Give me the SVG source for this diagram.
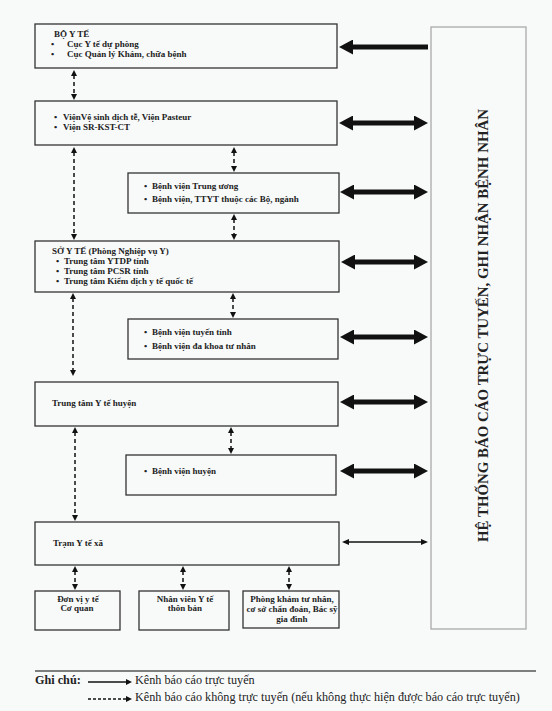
<svg xmlns="http://www.w3.org/2000/svg" width="552" height="711" viewBox="0 0 552 711">
<style>
.box{fill:none;stroke:#333;stroke-width:1.3}
.side{fill:none;stroke:#aaa;stroke-width:1.3}
.t{font-family:"Liberation Serif","Times New Roman",serif;font-size:9px;font-weight:bold;fill:#222}
.c{text-anchor:middle}
.big{font-family:"Liberation Serif","Times New Roman",serif;font-size:15px;font-weight:bold;fill:#222}
.lg{font-family:"Liberation Serif","Times New Roman",serif;font-size:12.2px;fill:#222}
.thick{stroke:#111;stroke-width:5;fill:none}
.dash{stroke:#111;stroke-width:1.5;stroke-dasharray:4 3;fill:none}
.thin{stroke:#111;stroke-width:1.4;fill:none}
</style>
<defs>
<marker id="hb" markerUnits="userSpaceOnUse" markerWidth="14" markerHeight="15" viewBox="0 0 14 15" refX="3" refY="7.5" orient="auto-start-reverse"><path d="M0,0 L14,7.5 L0,15 z" fill="#111"/></marker>
<marker id="hs" markerUnits="userSpaceOnUse" markerWidth="6" markerHeight="6" viewBox="0 0 6 6" refX="1" refY="3" orient="auto-start-reverse"><path d="M0,0 L6,3 L0,6 z" fill="#111"/></marker>
<marker id="ht" markerUnits="userSpaceOnUse" markerWidth="7" markerHeight="6" viewBox="0 0 7 6" refX="1" refY="3" orient="auto-start-reverse"><path d="M0,0 L7,3 L0,6 z" fill="#111"/></marker>
</defs>
<rect width="552" height="711" fill="#f8fafa"/>

<g id="he-thong">
<rect class="side" x="431" y="27" width="95" height="602"/>
<text class="big c" transform="translate(488,325.5) rotate(-90)" textLength="433" lengthAdjust="spacingAndGlyphs">HỆ THỐNG BÁO CÁO TRỰC TUYẾN, GHI NHẬN BỆNH NHÂN</text>
</g>

<g id="bo-y-te">
<rect class="box" x="35" y="24" width="302" height="44"/>
<text class="t" x="54" y="37">BỘ Y TẾ</text>
<text class="t" x="51" y="47">•</text><text class="t" x="67" y="47">Cục Y tế dự phòng</text>
<text class="t" x="51" y="57">•</text><text class="t" x="67" y="57">Cục Quản lý Khám, chữa bệnh</text>
</g>

<g id="vien">
<rect class="box" x="35" y="101" width="302" height="44"/>
<text class="t" x="54" y="120">•</text><text class="t" x="63" y="120">ViệnVệ sinh dịch tễ, Viện Pasteur</text>
<text class="t" x="54" y="130">•</text><text class="t" x="63" y="130">Viện SR-KST-CT</text>
</g>

<g id="bv-trung-uong">
<rect class="box" x="128" y="173" width="211" height="40"/>
<text class="t" x="144" y="189">•</text><text class="t" x="152" y="189">Bệnh viện Trung ương</text>
<text class="t" x="144" y="202">•</text><text class="t" x="152" y="202">Bệnh viện, TTYT thuộc các Bộ, ngành</text>
</g>

<g id="so-y-te">
<rect class="box" x="35" y="241" width="304" height="51"/>
<text class="t" x="52" y="254">SỞ Y TẾ (Phòng Nghiệp vụ Y)</text>
<text class="t" x="56" y="264">•</text><text class="t" x="64" y="264">Trung tâm YTDP  tỉnh</text>
<text class="t" x="56" y="274">•</text><text class="t" x="64" y="274">Trung tâm PCSR tỉnh</text>
<text class="t" x="56" y="284">•</text><text class="t" x="64" y="284">Trung tâm Kiểm dịch y tế quốc tế</text>
</g>

<g id="bv-tinh">
<rect class="box" x="128" y="319" width="210" height="40"/>
<text class="t" x="144" y="335">•</text><text class="t" x="152" y="335">Bệnh viện tuyến tỉnh</text>
<text class="t" x="144" y="349">•</text><text class="t" x="152" y="349">Bệnh viện đa khoa tư nhân</text>
</g>

<g id="ttyt-huyen">
<rect class="box" x="35" y="382" width="303" height="44"/>
<text class="t" x="52" y="406">Trung tâm Y tế huyện</text>
</g>

<g id="bv-huyen">
<rect class="box" x="126" y="455" width="210" height="40"/>
<text class="t" x="144" y="474">•</text><text class="t" x="152" y="474">Bệnh viện huyện</text>
</g>

<g id="tram-y-te-xa">
<rect class="box" x="35" y="522" width="304" height="43"/>
<text class="t" x="53" y="546">Trạm Y tế xã</text>
</g>

<g id="don-vi-y-te">
<rect class="box" x="35" y="591" width="85" height="39"/>
<text class="t c" x="78" y="602">Đơn vị y tế</text>
<text class="t c" x="77" y="611">Cơ quan</text>
</g>

<g id="nhan-vien">
<rect class="box" x="139" y="591" width="90" height="39"/>
<text class="t c" x="185" y="602">Nhân viên Y tế</text>
<text class="t c" x="185" y="611">thôn bản</text>
</g>

<g id="phong-kham">
<rect class="box" x="243" y="591" width="96" height="37"/>
<text class="t c" x="292" y="602">Phòng khám tư nhân,</text>
<text class="t c" x="292" y="612">cơ sở chẩn đoán, Bác sỹ</text>
<text class="t c" x="292" y="622">gia đình</text>
</g>

<g id="connectors">
<line class="thick" x1="428" y1="47" x2="350" y2="47" marker-end="url(#hb)"/>
<line class="thick" x1="350" y1="123" x2="417" y2="123" marker-start="url(#hb)" marker-end="url(#hb)"/>
<line class="thick" x1="351" y1="192" x2="417" y2="192" marker-start="url(#hb)" marker-end="url(#hb)"/>
<line class="thick" x1="352" y1="262" x2="417" y2="262" marker-start="url(#hb)" marker-end="url(#hb)"/>
<line class="thick" x1="351" y1="337" x2="417" y2="337" marker-start="url(#hb)" marker-end="url(#hb)"/>
<line class="thick" x1="351" y1="402" x2="417" y2="402" marker-start="url(#hb)" marker-end="url(#hb)"/>
<line class="thick" x1="351" y1="471" x2="417" y2="471" marker-start="url(#hb)" marker-end="url(#hb)"/>
<line class="thin" x1="348" y1="542" x2="422" y2="542" marker-start="url(#ht)" marker-end="url(#ht)"/>

<line class="dash" x1="74" y1="75" x2="74" y2="95" marker-start="url(#hs)" marker-end="url(#hs)"/>
<line class="dash" x1="74" y1="152" x2="74" y2="235" marker-start="url(#hs)" marker-end="url(#hs)"/>
<line class="dash" x1="234" y1="152" x2="234" y2="167" marker-start="url(#hs)" marker-end="url(#hs)"/>
<line class="dash" x1="234" y1="219" x2="234" y2="235" marker-start="url(#hs)" marker-end="url(#hs)"/>
<line class="dash" x1="73" y1="298" x2="73" y2="371" marker-start="url(#hs)" marker-end="url(#hs)"/>
<line class="dash" x1="233" y1="298" x2="233" y2="313" marker-start="url(#hs)" marker-end="url(#hs)"/>
<line class="dash" x1="75" y1="432" x2="75" y2="516" marker-start="url(#hs)" marker-end="url(#hs)"/>
<line class="dash" x1="231" y1="432" x2="231" y2="449" marker-start="url(#hs)" marker-end="url(#hs)"/>
<line class="dash" x1="75" y1="571" x2="75" y2="585" marker-start="url(#hs)" marker-end="url(#hs)"/>
<line class="dash" x1="183" y1="571" x2="183" y2="585" marker-start="url(#hs)" marker-end="url(#hs)"/>
<line class="dash" x1="289" y1="571" x2="289" y2="585" marker-start="url(#hs)" marker-end="url(#hs)"/>
</g>

<g id="legend">
<line x1="35" y1="671" x2="536" y2="671" stroke="#555" stroke-width="1.6"/>
<text class="lg" x="35" y="684" font-weight="bold" font-size="12.5px">Ghi chú:</text>
<line class="thin" x1="88" y1="682" x2="127" y2="682" stroke-width="1" marker-end="url(#hs)"/>
<text class="lg" x="135" y="684">Kênh báo cáo trực tuyến</text>
<line class="thin" x1="88" y1="699" x2="127" y2="699" stroke-width="1" stroke-dasharray="3 2" marker-end="url(#hs)"/>
<text class="lg" x="135" y="701">Kênh báo cáo không trực tuyến (nếu không thực hiện được báo cáo trực tuyến)</text>
</g>
</svg>
